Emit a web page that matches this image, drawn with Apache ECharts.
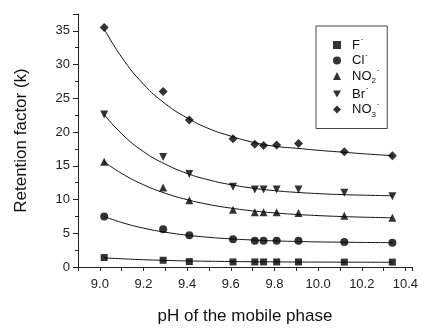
<!DOCTYPE html>
<html>
<head>
<meta charset="utf-8">
<script src="https://cdn.jsdelivr.net/npm/echarts@6/dist/echarts.min.js"></script>
<style>html,body{margin:0;padding:0;background:#fff}#c{width:427px;height:330px}</style>
</head>
<body>
<div id="c"></div>
<script>
// Measured pH values
var pH = [9.02, 9.29, 9.41, 9.61, 9.71, 9.75, 9.81, 9.91, 10.12, 10.34];
// Retention factors
var kF   = [1.4, 1.0, 0.8, 0.75, 0.75, 0.75, 0.75, 0.75, 0.72, 0.72];
var kCl  = [7.5, 5.6, 4.7, 4.1, 3.9, 3.9, 3.9, 3.9, 3.7, 3.6];
var kNO2 = [15.6, 11.8, 9.9, 8.5, 8.1, 8.1, 8.1, 8.0, 7.6, 7.3];
var kBr  = [22.6, 16.3, 13.8, 11.9, 11.5, 11.5, 11.5, 11.5, 11.0, 10.5];
var kNO3 = [35.5, 26.0, 21.8, 19.0, 18.2, 18.0, 18.1, 18.3, 17.1, 16.5];
// Fitted curves, values
var fitX    = [9.02, 9.1, 9.2, 9.3, 9.4, 9.5, 9.6, 9.7, 9.8, 9.9, 10.0, 10.1, 10.2, 10.34];
var fitF    = [1.35, 1.22, 1.08, 0.98, 0.90, 0.85, 0.81, 0.78, 0.76, 0.74, 0.73, 0.72, 0.71, 0.70];
var fitCl   = [7.49, 6.6, 5.76, 5.16, 4.72, 4.40, 4.17, 4.0, 3.87, 3.79, 3.72, 3.68, 3.64, 3.61];
var fitNO2  = [15.6, 13.87, 12.19, 10.93, 9.98, 9.26, 8.73, 8.32, 8.02, 7.79, 7.62, 7.49, 7.39, 7.30];
var fitBr   = [22.6, 19.75, 17.1, 15.24, 13.87, 12.9, 12.2, 11.69, 11.32, 11.06, 10.88, 10.74, 10.65, 10.56];
var fitNO3  = [35.3, 31.1, 27.1, 24.2, 22.1, 20.5, 19.4, 18.5, 17.9, 17.6, 17.3, 17.05, 16.8, 16.5];
var names = ['F-', 'Cl-', 'NO2-', 'Br-', 'NO3-'];
var yTicks = ['0', '5', '10', '15', '20', '25', '30', '35'];
var xTicks = ['9.0', '9.2', '9.4', '9.6', '9.8', '10.0', '10.2', '10.4'];

function pairs(xs, ys){ return xs.map(function(x,i){ return [x, ys[i]]; }); }

var symbols = ['rect', 'circle', 'triangle', 'path://M0,0L10,0L5,9Z', 'diamond'];
var sizes = [7, 8, 8, 8, 9];
var pts = [kF, kCl, kNO2, kBr, kNO3];
var fits = [fitF, fitCl, fitNO2, fitBr, fitNO3];

var series = [];
for (var i = 0; i < 5; i++) {
  series.push({
    type: 'line', data: pairs(fitX, fits[i]), smooth: true, showSymbol: false, symbol: 'none',
    lineStyle: { color: '#111', width: 1 }, silent: true, z: 2
  });
}
for (var j = 0; j < 5; j++) {
  series.push({
    name: names[j], type: 'scatter', data: pairs(pH, pts[j]),
    symbol: symbols[j], symbolSize: sizes[j],
    itemStyle: { color: '#000' }, z: 3
  });
}

var legendText = {
  'F-': '{b|F}{sup|-}',
  'Cl-': '{b|Cl}{sup|-}',
  'NO2-': '{b|NO}{sub|2}{sup|-}',
  'Br-': '{b|Br}{sup|-}',
  'NO3-': '{b|NO}{sub|3}{sup|-}'
};

var chart = echarts.init(document.getElementById('c'), null, { renderer: 'canvas' });
chart.setOption({
  animation: false,
  backgroundColor: '#fff',
  textStyle: { fontFamily: 'Liberation Sans, Arial, sans-serif' },
  grid: { left: 78, right: 15, top: 14, bottom: 59, containLabel: false },
  xAxis: {
    type: 'value', min: 8.9, max: 10.43, interval: 0.1,
    name: 'pH of the mobile phase', nameLocation: 'middle', nameGap: 41,
    nameTextStyle: { fontSize: 17, color: '#111', fontFamily: 'Liberation Sans, Arial, sans-serif' },
    axisLine: { lineStyle: { color: '#222', width: 1 } },
    axisTick: { length: 4, lineStyle: { color: '#222' } },
    axisLabel: {
      fontSize: 13, color: '#222', margin: 11,
      formatter: function (v) {
        var s = Number(v).toFixed(1);
        return xTicks.indexOf(s) >= 0 && Math.abs(v * 10 - Math.round(v * 10)) < 1e-6 ? s : '';
      }
    },
    splitLine: { show: false }
  },
  yAxis: {
    type: 'value', min: 0, max: 37.5, interval: 5,
    name: 'Retention factor (k)', nameLocation: 'middle', nameGap: 48,
    nameTextStyle: { fontSize: 17, color: '#111', fontFamily: 'Liberation Sans, Arial, sans-serif' },
    axisLine: { show: true, lineStyle: { color: '#222', width: 1 } },
    axisTick: { show: true, length: 5, lineStyle: { color: '#222' } },
    minorTick: { show: true, splitNumber: 2, length: 3, lineStyle: { color: '#222' } },
    axisLabel: {
      fontSize: 13, color: '#222', margin: 8, showMaxLabel: false,
      formatter: function (v) { var s = String(v); return yTicks.indexOf(s) >= 0 ? s : ''; }
    },
    splitLine: { show: false }
  },
  legend: {
    data: names, orient: 'vertical', left: 316, top: 26,
    borderColor: '#444', borderWidth: 1, padding: [10, 8, 10, 17],
    itemWidth: 8, itemHeight: 8, itemGap: 0,
    formatter: function (n) { return legendText[n]; },
    textStyle: {
      color: '#111', fontSize: 13,
      rich: {
        b: { fontSize: 13, lineHeight: 18, color: '#111', padding: [0, 0, 0, 6] },
        sup: { fontSize: 7, lineHeight: 18, verticalAlign: 'top', padding: [0, 0, 0, 1], color: '#111' },
        sub: { fontSize: 8, lineHeight: 12, verticalAlign: 'bottom', color: '#111' }
      }
    },
    selectedMode: false
  },
  series: series
});
</script>
</body>
</html>
